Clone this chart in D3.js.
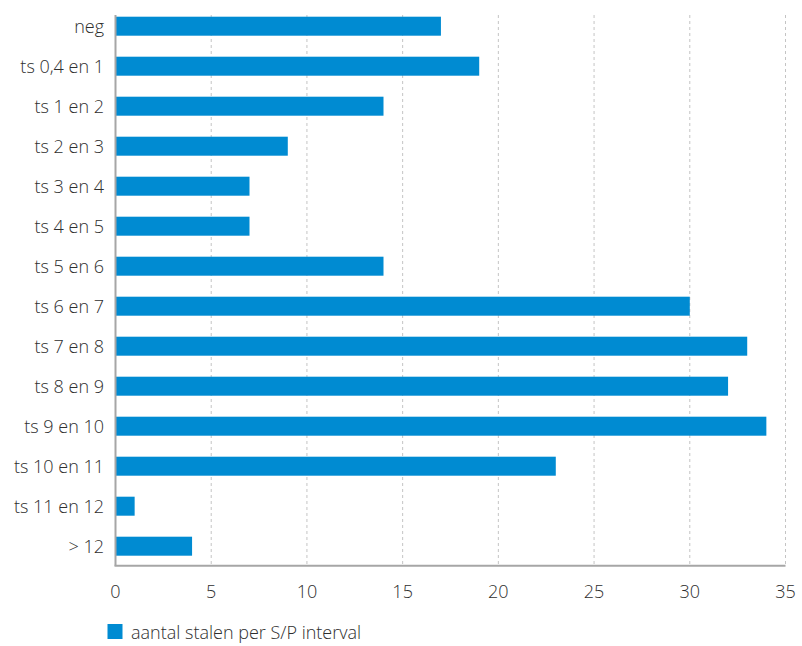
<!DOCTYPE html>
<html><head><meta charset="utf-8">
<script src="https://cdn.jsdelivr.net/npm/d3@7"></script>
<style>body{margin:0;background:#fff}text{font-family:"Open Sans","Noto Sans",sans-serif;fill:#2e2e2e;font-weight:300}</style>
</head><body><svg id="c" width="802" height="646"></svg>
<script>
const categories = ["neg","ts 0,4 en 1","ts 1 en 2","ts 2 en 3","ts 3 en 4","ts 4 en 5","ts 5 en 6","ts 6 en 7","ts 7 en 8","ts 8 en 9","ts 9 en 10","ts 10 en 11","ts 11 en 12","> 12"];
const values = [17,19,14,9,7,7,14,30,33,32,34,23,1,4];
const xTicks = [0,5,10,15,20,25,30,35];
const seriesName = "aantal stalen per S/P interval";

(function(){
const svg = d3.select("#c");
const x = d3.scaleLinear().domain([0,35]).range([115.5,785.5]);
const y = d3.scaleBand().domain(categories).range([6.2,566.2]).paddingInner(0.525).paddingOuter(0.2625);
const plotTop = 15, plotBottom = 565.7;
const fs = 18;

svg.append("g").selectAll("line").data(xTicks.filter(d=>d>0)).join("line")
  .attr("x1",d=>x(d)).attr("x2",d=>x(d)).attr("y1",plotTop).attr("y2",plotBottom)
  .attr("stroke","#c4c4c4").attr("stroke-width",1).attr("stroke-dasharray","3,3");

svg.append("g").selectAll("rect").data(values).join("rect")
  .attr("x",x(0)).attr("y",(d,i)=>y(categories[i]))
  .attr("width",d=>x(d)-x(0)).attr("height",y.bandwidth())
  .attr("fill","#008bd2");

svg.append("line").attr("x1",x(0)).attr("x2",x(0)).attr("y1",plotTop).attr("y2",plotBottom)
  .attr("stroke","#a6a6a6").attr("stroke-width",2);
svg.append("line").attr("x1",x(0)-1).attr("x2",x(35)).attr("y1",plotBottom).attr("y2",plotBottom)
  .attr("stroke","#a6a6a6").attr("stroke-width",2);

svg.append("g").selectAll("text").data(categories).join("text")
  .attr("x",104).attr("y",d=>y(d)+y.bandwidth()/2).attr("dy","0.35em")
  .attr("text-anchor","end").attr("font-size",fs).text(d=>d);

svg.append("g").selectAll("text").data(xTicks).join("text")
  .attr("x",d=>x(d)).attr("y",591.5).attr("dy","0.35em")
  .attr("text-anchor","middle").attr("font-size",fs).text(d=>d);

svg.append("rect").attr("x",107.5).attr("y",624).attr("width",15).attr("height",15).attr("fill","#008bd2");
svg.append("text").attr("x",131).attr("y",632.5).attr("dy","0.35em").attr("font-size",fs).text(seriesName);
})();
</script></body></html>
